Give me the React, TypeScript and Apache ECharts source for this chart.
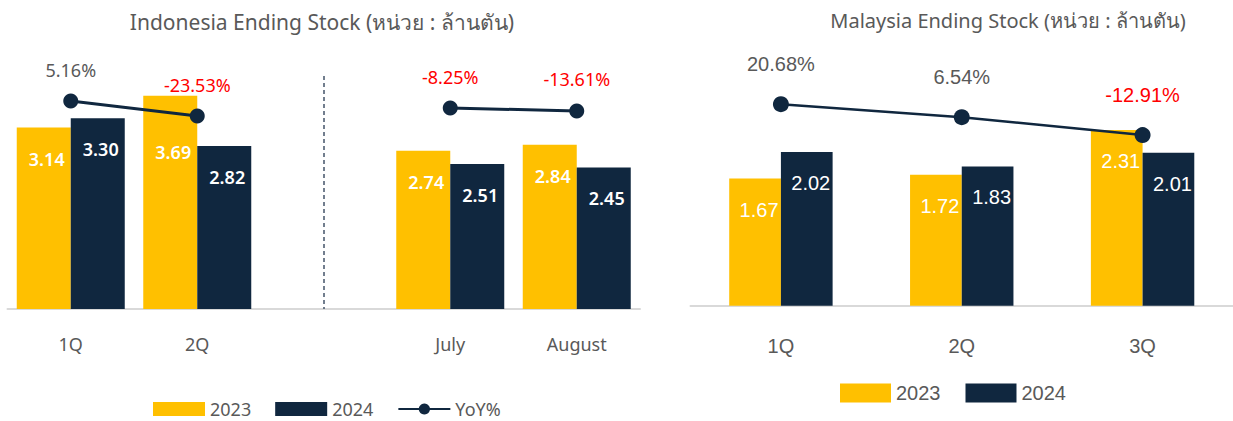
import React, { useEffect, useRef } from 'react';
import * as echarts from 'echarts';

// ---- Data ----
const idCategories = ['1Q', '2Q', '', 'July', 'August'];
const id2023 = [3.14, 3.69, null, 2.74, 2.84];
const id2024 = [3.3, 2.82, null, 2.51, 2.45];
const idYoY = [5.16, -23.53, null, -8.25, -13.61];

const myCategories = ['1Q', '2Q', '3Q'];
const my2023 = [1.67, 1.72, 2.31];
const my2024 = [2.02, 1.83, 2.01];
const myYoY = [20.68, 6.54, -12.91];

const seriesNames = ['2023', '2024', 'YoY%'];
const titleTexts = [
  'Indonesia Ending Stock (หน่วย : ล้านตัน)',
  'Malaysia Ending Stock (หน่วย : ล้านตัน)',
];

// ---- Styles ----
const YELLOW = '#FFC000';
const NAVY = '#10273F';
const GRAY = '#595959';
const RED = '#FF0000';
const AXIS = '#D9D9D9';
const FONT_ID = '"Noto Sans", "Open Sans", sans-serif';
const FONT_MY = '"Liberation Sans", Arial, sans-serif';

const fmt2 = (p: any) => Number(p.value).toFixed(2);
const fmtPct = (p: any) => Number(p.value).toFixed(2) + '%';

function barData(arr: (number | null)[], special?: Record<number, any>) {
  return arr.map((v, i) => {
    if (v == null) return '-';
    if (special && special[i]) return { value: v, label: special[i] };
    return v;
  });
}

function yoyData(arr: (number | null)[]) {
  return arr.map((v) =>
    v == null ? '-' : { value: v, label: { color: v < 0 ? RED : GRAY } }
  );
}

export default function App() {
  const ref = useRef<HTMLDivElement>(null);

  useEffect(() => {
    if (!ref.current) return;
    const chart = echarts.init(ref.current, undefined, { renderer: 'svg' });

    const option: any = {
      animation: false,
      backgroundColor: '#ffffff',
      graphic: [
        {
          type: 'text',
          x: 322,
          y: 22,
          style: {
            text: titleTexts[0],
            align: 'center',
            verticalAlign: 'middle',
            fontSize: 21,
            fontFamily: FONT_ID,
            fill: GRAY,
          },
        },
        {
          type: 'text',
          x: 1008,
          y: 20,
          style: {
            text: titleTexts[1],
            align: 'center',
            verticalAlign: 'middle',
            fontSize: 20,
            fontFamily: FONT_ID,
            fill: GRAY,
          },
        },
      ],
      legend: [
        {
          left: 153,
          top: 400,
          padding: 0,
          itemWidth: 52,
          itemHeight: 14,
          itemGap: 24,
          selectedMode: false,
          textStyle: { fontSize: 18, lineHeight: 18, color: GRAY, fontFamily: FONT_ID },
          data: [
            { name: seriesNames[0], icon: 'rect' },
            { name: seriesNames[1], icon: 'rect' },
            { name: seriesNames[2] },
          ],
        },
        {
          left: 840,
          top: 383,
          padding: 0,
          itemWidth: 51,
          itemHeight: 19,
          itemGap: 25,
          selectedMode: false,
          textStyle: { fontSize: 20, lineHeight: 20, color: GRAY, fontFamily: FONT_MY },
          data: [
            { name: seriesNames[0], icon: 'rect' },
            { name: seriesNames[1], icon: 'rect' },
          ],
        },
      ],
      grid: [
        { left: 7.5, top: 20, width: 632.5, height: 289 },
        { left: 690.5, top: 20, width: 543, height: 285.7 },
      ],
      xAxis: [
        {
          type: 'category',
          gridIndex: 0,
          data: idCategories,
          axisLine: { lineStyle: { color: AXIS, width: 2 } },
          axisTick: { show: false },
          axisLabel: { color: GRAY, fontSize: 18, fontFamily: FONT_ID, margin: 26 },
        },
        {
          type: 'category',
          gridIndex: 1,
          data: myCategories,
          axisLine: { lineStyle: { color: AXIS, width: 2 } },
          axisTick: { show: false },
          axisLabel: { color: GRAY, fontSize: 20, fontFamily: FONT_MY, margin: 30 },
        },
      ],
      yAxis: [
        { type: 'value', gridIndex: 0, min: 0, max: 5, show: false },
        { type: 'value', gridIndex: 0, min: -392, max: 160, show: false },
        { type: 'value', gridIndex: 1, min: 0, max: 3.754, show: false },
        { type: 'value', gridIndex: 1, min: -198, max: 112, show: false },
      ],
      series: [
        {
          name: seriesNames[0],
          type: 'bar',
          xAxisIndex: 0,
          yAxisIndex: 0,
          barWidth: 54,
          barGap: '0%',
          itemStyle: { color: YELLOW },
          label: {
            show: true,
            position: 'insideTop',
            distance: 22,
            offset: [3, 0],
            color: '#ffffff',
            fontSize: 18,
            fontWeight: 600,
            fontFamily: FONT_ID,
            formatter: fmt2,
          },
          data: barData(id2023, { 1: { distance: 47 } }),
        },
        {
          name: seriesNames[1],
          type: 'bar',
          xAxisIndex: 0,
          yAxisIndex: 0,
          barWidth: 54,
          barGap: '0%',
          itemStyle: { color: NAVY },
          label: {
            show: true,
            position: 'insideTop',
            distance: 22,
            offset: [3, 0],
            color: '#ffffff',
            fontSize: 18,
            fontWeight: 600,
            fontFamily: FONT_ID,
            formatter: fmt2,
          },
          data: barData(id2024),
        },
        {
          name: seriesNames[2],
          type: 'line',
          xAxisIndex: 0,
          yAxisIndex: 1,
          symbol: 'circle',
          symbolSize: 15,
          connectNulls: false,
          lineStyle: { color: NAVY, width: 3 },
          itemStyle: { color: NAVY },
          label: {
            show: true,
            position: 'top',
            distance: 15,
            fontSize: 18,
            fontFamily: FONT_ID,
            formatter: fmtPct,
          },
          data: yoyData(idYoY),
          markLine: {
            silent: true,
            symbol: ['none', 'none'],
            label: { show: false },
            lineStyle: { color: '#44546A', width: 1.5, type: [4, 3] },
            data: [[{ coord: [2, 53] }, { coord: [2, -392] }]],
          },
          z: 5,
        },
        {
          name: seriesNames[0],
          type: 'bar',
          xAxisIndex: 1,
          yAxisIndex: 2,
          barWidth: 51.7,
          barGap: '0%',
          itemStyle: { color: YELLOW },
          label: {
            show: true,
            position: 'insideTop',
            distance: 21,
            offset: [4, 0],
            color: '#ffffff',
            fontSize: 20,
            fontFamily: FONT_MY,
            formatter: fmt2,
          },
          data: barData(my2023),
        },
        {
          name: seriesNames[1],
          type: 'bar',
          xAxisIndex: 1,
          yAxisIndex: 2,
          barWidth: 51.7,
          barGap: '0%',
          itemStyle: { color: NAVY },
          label: {
            show: true,
            position: 'insideTop',
            distance: 21,
            offset: [4, 0],
            color: '#ffffff',
            fontSize: 20,
            fontFamily: FONT_MY,
            formatter: fmt2,
          },
          data: barData(my2024),
        },
        {
          name: 'YoY% MY',
          type: 'line',
          xAxisIndex: 1,
          yAxisIndex: 3,
          symbol: 'circle',
          symbolSize: 16,
          lineStyle: { color: NAVY, width: 2.5 },
          itemStyle: { color: NAVY },
          label: {
            show: true,
            position: 'top',
            distance: 22,
            fontSize: 20,
            fontFamily: FONT_MY,
            formatter: fmtPct,
          },
          data: yoyData(myYoY),
          z: 5,
        },
      ],
    };

    chart.setOption(option);
    return () => chart.dispose();
  }, []);

  return (
    <div
      ref={ref}
      style={{
        position: 'fixed',
        left: 0,
        top: 0,
        width: 1233,
        height: 421,
        background: '#ffffff',
      }}
    />
  );
}
